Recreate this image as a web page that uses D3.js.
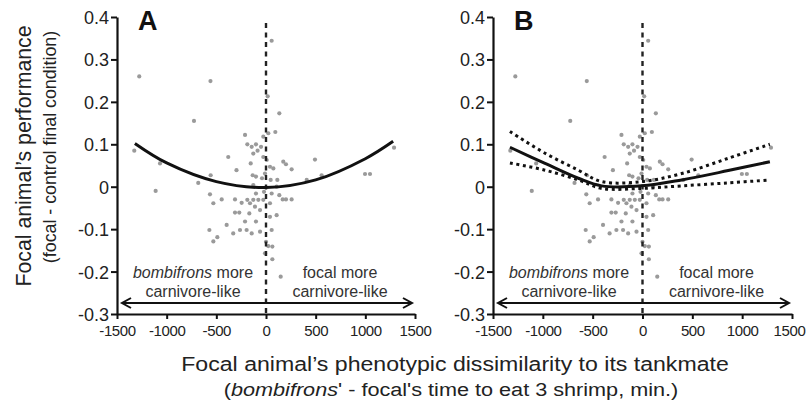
<!DOCTYPE html>
<html>
<head>
<meta charset="utf-8">
<script src="https://cdn.jsdelivr.net/npm/d3@7"></script>
<style>
  body { margin: 0; background: #fff; }
  svg { font-family: "Liberation Sans", Arial, sans-serif; }
  .axis path, .axis line { stroke: #111; }
  .axis text { fill: #222; }
</style>
</head>
<body>
<div id="chart"><svg width="807" height="405"></svg></div>
<script>
// axis ticks
var xTicks = [-1500, -1000, -500, 0, 500, 1000, 1500];
var yTicks = [-0.3, -0.2, -0.1, 0, 0.1, 0.2, 0.3, 0.4];

// scatter (same points in both panels)
var ptX = [-1276, -1326, -559, -725, -1067, -1111, -682, -557, -564, -530, -570, -530, -490, -396,
  -380, -330, -297, -312, -312, -269, -211, -188, -144, -128, -101, -50, -154, -134, -101, -188,
  -161, -128, -111, -77, -60, -211, -195, -144, -101, -60, -245, -128, -27, -10, -20, -27, 7, 23,
  17, 57, 40, 47, 74, 57, 40, 40, 57, 64, 64, 148, 94, 134, 114, 107, 134, 168, 201, 258, 174,
  201, 258, 107, 493, 560, 410, 997, 1047, 1289, -10, 0, 23, -27, -446, -262, -168, -101, -85, -40];
var ptY = [0.26, 0.085, 0.249, 0.155, 0.055, -0.01, 0.009, 0.027, -0.018, -0.039, -0.102, -0.129,
  -0.119, -0.09, 0.07, -0.11, 0.039, -0.03, -0.061, -0.061, 0.122, 0.1, 0.094, 0.078, 0.1, 0.094,
  0.055, 0.027, 0.024, -0.031, -0.039, -0.031, -0.047, -0.031, -0.055, -0.082, -0.102, -0.11,
  -0.082, -0.106, -0.038, 0.004, 0.07, 0.031, -0.012, -0.031, 0.063, 0.126, 0.213, 0.344, 0.047,
  0.016, 0.043, -0.016, -0.039, -0.071, -0.102, -0.141, -0.171, -0.212, 0.129, 0.173, 0.016, 0.0,
  -0.02, -0.03, -0.03, -0.03, 0.059, 0.053, 0.041, -0.067, 0.064, 0.027, 0.016, 0.03, 0.03, 0.092,
  -0.157, -0.13, -0.14, 0.118, -0.03, -0.102, -0.063, -0.016, 0.085, 0.02];

// panel A fitted curve
var fitAX = [-1320, -1000, -500, 0, 500, 1000, 1280];
var fitAY = [0.102, 0.056, 0.012, -0.002, 0.016, 0.066, 0.107];

// panel B fitted curve and confidence band
var fitBX = [-1330, -978, -644, -410, -8, 393, 860, 1278];
var fitBY = [0.093, 0.055, 0.02, 0.002, 0.002, 0.016, 0.038, 0.059];
var upBY = [0.13, 0.079, 0.039, 0.012, 0.012, 0.031, 0.067, 0.1];
var loBY = [0.056, 0.039, 0.016, -0.004, -0.004, 0.002, 0.009, 0.016];

var svg = d3.select("#chart svg");

var y = d3.scaleLinear().domain([-0.3, 0.4]).range([314, 17]);

function fmt(d) { return String(+d.toFixed(1)); }

function drawPanel(x0, x1, label, fits) {
    var x = d3.scaleLinear().domain([-1500, 1500]).range([x0, x1]);
    var g = svg.append("g");

    // points
    g.append("g").selectAll("circle")
        .data(ptX)
        .enter()
        .append("circle")
        .attr("cx", function(d) { return x(d); })
        .attr("cy", function(d, i) { return y(ptY[i]); })
        .attr("r", 2.1)
        .attr("fill", "#9a9a9a");

    // zero line
    g.append("line")
        .attr("x1", x(0)).attr("x2", x(0))
        .attr("y1", 23).attr("y2", y(-0.3))
        .attr("stroke", "#222")
        .attr("stroke-width", 2.4)
        .attr("stroke-dasharray", "5,4.5");

    var line = d3.line().curve(d3.curveCatmullRom);
    fits.forEach(function(f) {
        g.append("path")
            .attr("d", line(f.xs.map(function(d, i) { return [x(d), y(f.ys[i])]; })))
            .attr("fill", "none")
            .attr("stroke", "#111")
            .attr("stroke-width", 3)
            .attr("stroke-dasharray", f.dotted ? "3,3.6" : null);
    });

    // axes
    var gx = g.append("g")
        .attr("class", "axis")
        .attr("transform", "translate(0," + y(-0.3) + ")")
        .call(d3.axisBottom(x).tickValues(xTicks).tickFormat(String).tickSize(5).tickSizeOuter(0));
    gx.select(".domain").attr("stroke-width", 2.2);
    gx.selectAll("line").attr("stroke-width", 2);
    gx.selectAll("text")
        .attr("font-size", 15)
        .attr("letter-spacing", -0.4)
        .attr("dy", "0.9em");
    if (x1 > 700) {
        gx.selectAll(".tick text").filter(function(d) { return d === 1500; }).attr("dx", -3);
    }

    var gy = g.append("g")
        .attr("class", "axis")
        .attr("transform", "translate(" + x0 + ",0)")
        .call(d3.axisLeft(y).tickValues(yTicks).tickFormat(fmt).tickSize(6).tickSizeOuter(0));
    gy.select(".domain").attr("stroke-width", 2.2);
    gy.selectAll("line").attr("stroke-width", 2);
    gy.selectAll("text").attr("font-size", 18).attr("x", -8).attr("dy", "0.36em");

    // double arrow
    var ay = 303, ax0 = x0 + 5, ax1 = x1 - 3;
    g.append("path")
        .attr("d", "M" + ax0 + "," + ay + "H" + ax1 +
            "M" + (ax0 + 9) + "," + (ay - 5) + "L" + ax0 + "," + ay + "L" + (ax0 + 9) + "," + (ay + 5) +
            "M" + (ax1 - 9) + "," + (ay - 5) + "L" + ax1 + "," + ay + "L" + (ax1 - 9) + "," + (ay + 5))
        .attr("fill", "none")
        .attr("stroke", "#111")
        .attr("stroke-width", 2);

    // annotations
    var t1 = g.append("text")
        .attr("x", x0 + 76).attr("y", 278)
        .attr("text-anchor", "middle")
        .attr("font-size", 16).attr("fill", "#333");
    t1.append("tspan").attr("font-style", "italic").text("bombifrons");
    t1.append("tspan").text(" more");
    g.append("text")
        .attr("x", x0 + 76).attr("y", 297)
        .attr("text-anchor", "middle")
        .attr("font-size", 16).attr("fill", "#333")
        .text("carnivore-like");
    g.append("text")
        .attr("x", x(0) + 74).attr("y", 278)
        .attr("text-anchor", "middle")
        .attr("font-size", 16).attr("fill", "#333")
        .text("focal more");
    g.append("text")
        .attr("x", x(0) + 74).attr("y", 297)
        .attr("text-anchor", "middle")
        .attr("font-size", 16).attr("fill", "#333")
        .text("carnivore-like");

    // panel letter
    g.append("text")
        .attr("x", x0 + 21).attr("y", 30)
        .attr("font-size", 27).attr("font-weight", "bold")
        .attr("fill", "#111")
        .text(label);
}

drawPanel(117, 415, "A", [{ xs: fitAX, ys: fitAY }]);
drawPanel(493, 792, "B", [
    { xs: fitBX, ys: fitBY },
    { xs: fitBX, ys: upBY, dotted: true },
    { xs: fitBX, ys: loBY, dotted: true }
]);

// y title
svg.append("text")
    .attr("transform", "translate(31,156) rotate(-90)")
    .attr("text-anchor", "middle")
    .attr("font-size", 21.3).attr("fill", "#222")
    .text("Focal animal\u2019s performance");
svg.append("text")
    .attr("transform", "translate(56,147) rotate(-90)")
    .attr("text-anchor", "middle")
    .attr("font-size", 17.8).attr("fill", "#222")
    .text("(focal - control final condition)");

// x title (reference text is slightly stretched horizontally)
svg.append("text")
    .attr("transform", "translate(455,371) scale(1.1,1)")
    .attr("text-anchor", "middle")
    .attr("font-size", 21).attr("fill", "#222")
    .text("Focal animal\u2019s phenotypic dissimilarity to its tankmate");
var xt2 = svg.append("text")
    .attr("transform", "translate(451,396) scale(1.14,1)")
    .attr("text-anchor", "middle")
    .attr("font-size", 19).attr("fill", "#222");
xt2.append("tspan").text("(");
xt2.append("tspan").attr("font-style", "italic").text("bombifrons");
xt2.append("tspan").text("' - focal's time to eat 3 shrimp, min.)");
</script>
</body>
</html>
